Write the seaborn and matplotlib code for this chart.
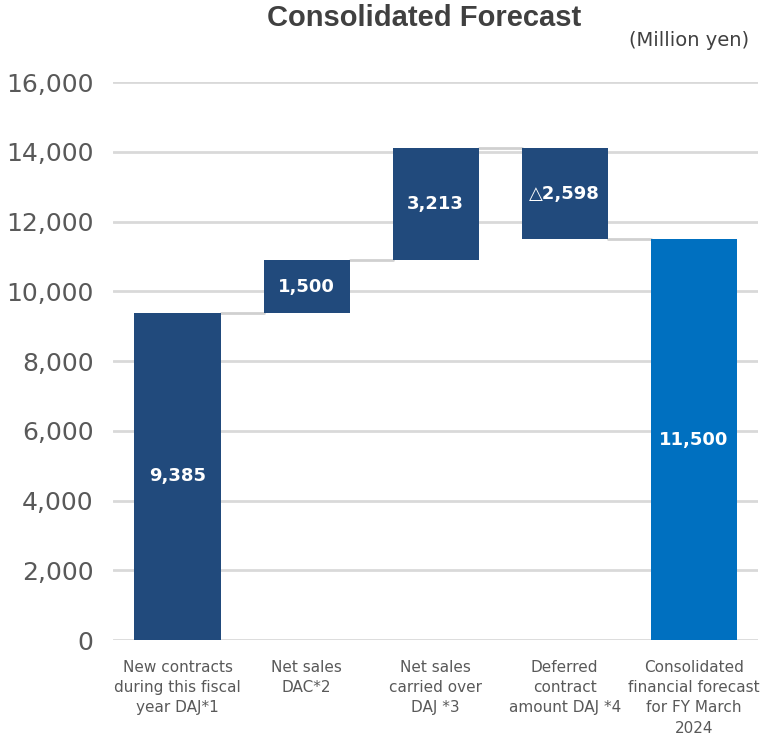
import seaborn as sns
import numpy as np
import pandas as pd
import matplotlib.pyplot as plt

categories = ['New contracts\nduring this fiscal\nyear DAJ*1', 'Net sales\nDAC*2',
              'Net sales\ncarried over\nDAJ *3', 'Deferred\ncontract\namount DAJ *4',
              'Consolidated\nfinancial forecast\nfor FY March\n2024']
changes = [9385, 1500, 3213, -2598, 11500]
value_labels = ['9,385', '1,500', '3,213', '\u25b32,598', '11,500']
bar_colors = ['#214a7c', '#214a7c', '#214a7c', '#214a7c', '#0070c0']

# waterfall bottoms / tops
bottoms = [0, 9385, 10885, 11500, 0]
tops = [9385, 10885, 14098, 14098, 11500]

sns.set_style('white')
plt.rcParams['font.family'] = ['DejaVu Sans']

fig = plt.figure(figsize=(7.61, 7.46), dpi=100)
ax = fig.add_axes([0.1485, 0.142, 0.848, 0.748])

df = pd.DataFrame({'cat': categories, 'height': [t - b for t, b in zip(tops, bottoms)]})
sns.barplot(data=df, x='cat', y='height', ax=ax, width=0.667, color=bar_colors[0], zorder=3)
for p, b, c in zip(ax.patches, bottoms, bar_colors):
    p.set_y(b)
    p.set_facecolor(c)
    p.set_edgecolor('none')

# connectors between bars
levels = [9385, 10885, 14098, 11500]
for i, level in enumerate(levels):
    ax.plot([i + 0.333, i + 1 - 0.333], [level, level], color='#d0d0d0', lw=2, zorder=2)

for i, (lab, b, t) in enumerate(zip(value_labels, bottoms, tops)):
    ax.text(i, (b + t) / 2, lab, ha='center', va='center', color='white',
            fontsize=13, fontweight='bold', zorder=4)

ax.set_ylim(0, 16000)
ax.set_xlim(-0.5, 4.5)
ax.set_yticks(range(0, 16001, 2000))
ax.set_yticklabels([f'{v:,}' for v in range(0, 16001, 2000)], fontsize=18, color='#595959')
ax.tick_params(axis='y', length=0, pad=14)
ax.tick_params(axis='x', length=0, pad=14, labelsize=11, labelcolor='#595959')
for lab in ax.get_xticklabels():
    lab.set_linespacing(1.45)
ax.grid(axis='y', color='#d9d9d9', lw=2, zorder=0)
ax.set_axisbelow(True)
for s in ax.spines.values():
    s.set_visible(False)
ax.set_xlabel('')
ax.set_ylabel('')

fig.text(0.557, 0.976, 'Consolidated Forecast', ha='center', va='center', fontsize=21,
         fontweight='bold', color='#404040', family='Liberation Sans')
fig.text(0.985, 0.946, '(Million yen)', ha='right', va='center', fontsize=14, color='#404040')

fig.savefig('out.png', dpi=100)
